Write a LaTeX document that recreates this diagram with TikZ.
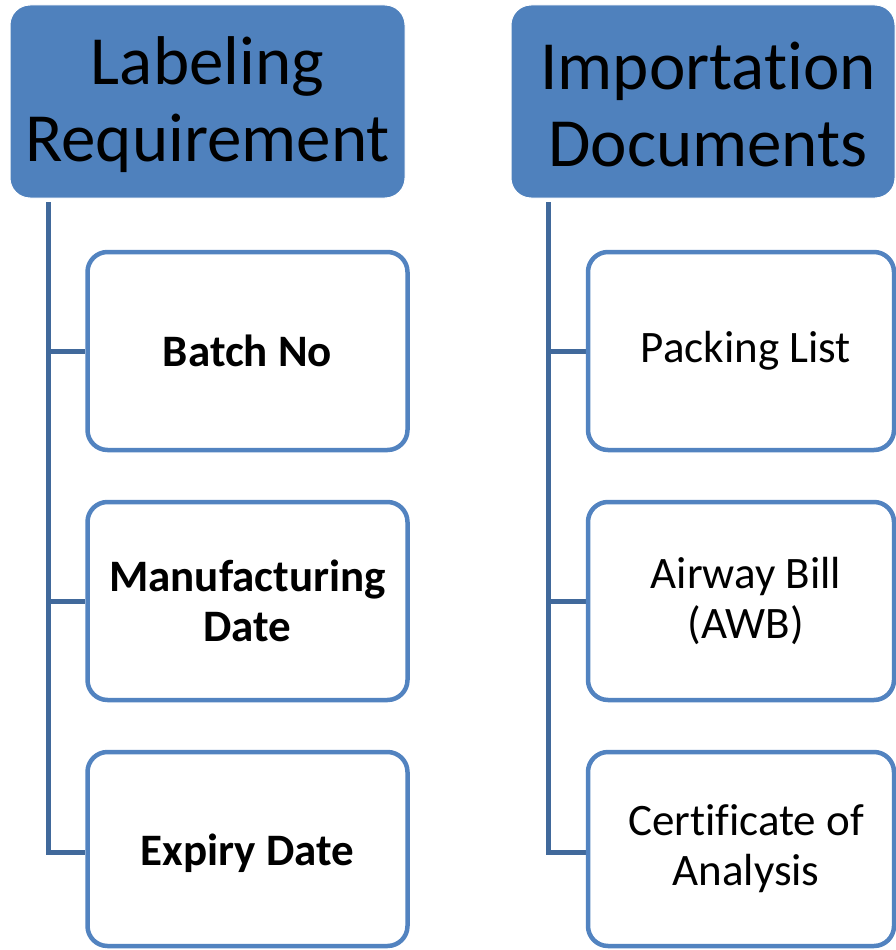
\documentclass[tikz,border=0pt]{standalone}
\usepackage{fontspec}
\setmainfont[Ligatures={NoCommon}]{Carlito}
\pgfdeclarelayer{bg}
\pgfsetlayers{bg,main}
\definecolor{headblue}{HTML}{4F81BD}
\definecolor{boxblue}{HTML}{5283C0}
\definecolor{connblue}{HTML}{41699B}
\tikzset{
  headbox/.style={rectangle, rounded corners=20pt, fill=headblue, draw=white, line width=1pt,
    minimum height=193pt, inner sep=0pt, align=center,
    font=\fontsize{69}{77}\selectfont, text=black},
  childbox/.style={rectangle, rounded corners=20pt, fill=white, draw=boxblue, line width=4.5pt,
    inner sep=0pt, align=center, font=\fontsize{45}{50}\selectfont, text=black},
  conn/.style={draw=connblue, line width=5pt}
}
\newcommand{\rs}{\hspace*{10pt}}
\newcommand{\dn}[2]{\raisebox{-#1}[\height][\depth]{#2}}
\begin{document}
\begin{tikzpicture}[x=1pt,y=-1pt]
\useasboundingbox (0,0) rectangle (896,950);
% headers
\node[headbox, minimum width=395pt] (h1) at (207.5,101.5) {\dn{3pt}{\parbox{390pt}{\centering Labeling\\Requirement}}};
\node[headbox, minimum width=384pt] (h2) at (703,101.5) {\dn{3pt}{\parbox{380pt}{\centering\rs Importation\\\rs Documents}}};
% left children
\node[childbox, minimum width=320pt, minimum height=198pt] (l1) at (247.5,351) {\bfseries Batch No};
\node[childbox, minimum width=320pt, minimum height=198pt] (l2) at (247.5,601) {\bfseries Manufacturing\\\bfseries Date};
\node[childbox, minimum width=320pt, minimum height=194pt] (l3) at (247.5,849) {\bfseries\dn{4pt}{Expiry Date}};
% right children
\node[childbox, minimum width=306pt, minimum height=198pt] (r1) at (741,351) {\rs Packing List};
\node[childbox, minimum width=306pt, minimum height=198pt] (r2) at (741,601) {\rs Airway Bill\\\rs (AWB)};
\node[childbox, minimum width=306pt, minimum height=194pt] (r3) at (741,849) {\rs Certificate of\\\rs Analysis};
% connectors
\coordinate (t1) at (48,202);
\coordinate (t2) at (548,202);
\begin{pgfonlayer}{bg}
\draw[conn] (t1) |- (l1.west);
\draw[conn] (t1) |- (l2.west);
\draw[conn] (t1) |- ([yshift=-3pt]l3.west);
\draw[conn] (t2) |- (r1.west);
\draw[conn] (t2) |- (r2.west);
\draw[conn] (t2) |- ([yshift=-3pt]r3.west);
\end{pgfonlayer}
\end{tikzpicture}
\end{document}
